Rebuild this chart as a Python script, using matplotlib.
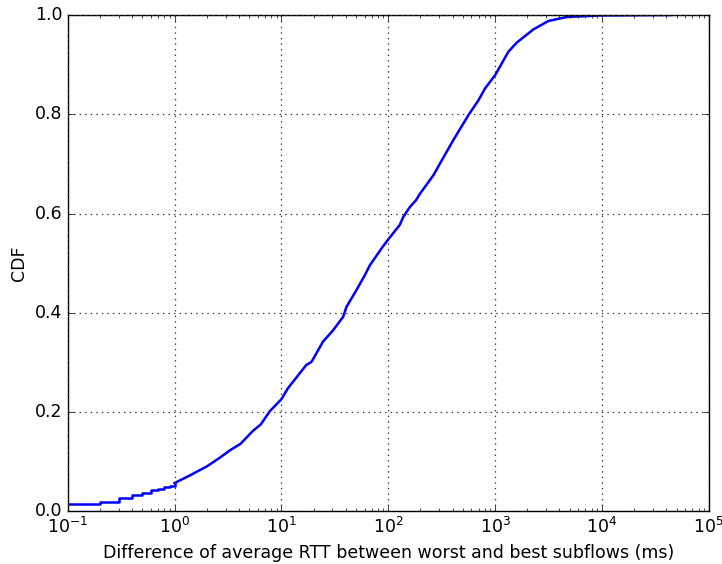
import matplotlib
matplotlib.use('Agg')
import matplotlib.pyplot as plt

plt.style.use('classic')
plt.rcParams['font.family'] = ['DejaVu Sans']

# low end of the CDF (visible steps)
step_x = [0.1, 0.2, 0.3, 0.4, 0.5, 0.6, 0.7, 0.8, 0.9, 1.0]
step_cdf = [0.015, 0.019, 0.026, 0.032, 0.037, 0.042, 0.044, 0.049, 0.052, 0.057]

# rest of the CDF
rtt_diff = [1.0, 1.41, 2.02, 2.69, 3.3, 4.14, 5.4, 6.4, 7.8, 10, 11.5, 17.1, 19.1,
            24.5, 30.5, 37.8, 40.6, 50.4, 60.4, 67.3, 86.6, 100, 128, 138, 159,
            182, 198, 264, 305, 406, 561, 697, 804, 1000, 1330, 1585, 2280, 3155,
            4690, 9560, 45000]
cdf = [0.057, 0.073, 0.091, 0.109, 0.123, 0.136, 0.162, 0.175, 0.202, 0.226, 0.248,
       0.295, 0.301, 0.342, 0.365, 0.392, 0.412, 0.446, 0.476, 0.496, 0.530, 0.548,
       0.577, 0.593, 0.613, 0.627, 0.640, 0.677, 0.701, 0.748, 0.798, 0.828, 0.852,
       0.879, 0.926, 0.944, 0.971, 0.988, 0.996, 0.999, 1.0]

fig = plt.figure(figsize=(7.22, 5.64), dpi=100, facecolor='white')
ax = fig.add_axes([0.0938, 0.0934, 0.888, 0.880])

ax.plot(step_x, step_cdf, color='b', lw=1.8, drawstyle='steps-post')
ax.plot(rtt_diff, cdf, color='b', lw=1.8)

ax.set_xscale('log')
ax.set_xlim(1e-1, 1e5)
ax.set_ylim(0, 1.0)
ax.grid(True, color='#333333', linestyle=':', linewidth=0.9)
ax.tick_params(labelsize=12.5)
ax.set_xlabel('Difference of average RTT between worst and best subflows (ms)', fontsize=12.5)
ax.set_ylabel('CDF', fontsize=12.5)

fig.savefig('out.png', dpi=100, facecolor='white')
